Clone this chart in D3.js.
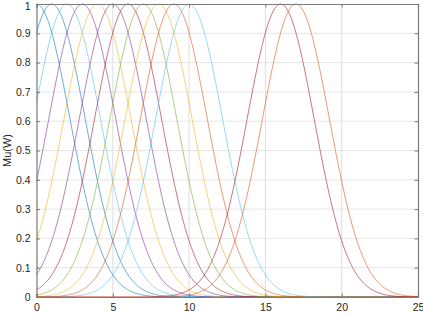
<!DOCTYPE html>
<html><head><meta charset="utf-8">
<script src="https://cdn.jsdelivr.net/npm/d3@7"></script>
<style>body{margin:0;background:#fff}svg{display:block}text{font-family:"Liberation Sans",Arial,sans-serif}</style>
</head><body>
<svg id="c" width="423" height="314"></svg>
<script>
// Gaussian membership functions
const centers = [0,1,2,3,4,5,6,7,8,9,10,16,17];
const sigmas  = [2.2,2.2,2.2,2.2,2.2,2.2,2.2,2.2,2.2,2.2,2.2,2.2,2.2];
const colors  = ["#0072BD","#0072BD","#4DBEEE","#7E2F8E","#EDB120","#7E2F8E","#A2142F","#77AC30","#EDB120","#D95319","#4DBEEE","#A2142F","#D95319"];
const xTicks = [0,5,10,15,20,25];
const yTicks = [0,0.1,0.2,0.3,0.4,0.5,0.6,0.7,0.8,0.9,1];
const xDomain = [0,25], yDomain = [0,1];

const svg = d3.select("#c");
const L=36.5, R=418, T=4, B=297;
const x = d3.scaleLinear().domain(xDomain).range([L,R]);
const y = d3.scaleLinear().domain(yDomain).range([B,T]);

// grid
const g = svg.append("g");
g.selectAll(".gx").data(xTicks.slice(1,-1)).join("line")
 .attr("x1",d=>x(d)).attr("x2",d=>x(d)).attr("y1",T).attr("y2",B)
 .attr("stroke","#dedede").attr("stroke-width",1);
g.selectAll(".gy").data(yTicks.slice(1,-1)).join("line")
 .attr("y1",d=>y(d)).attr("y2",d=>y(d)).attr("x1",L).attr("x2",R)
 .attr("stroke","#e6e6e6").attr("stroke-width",1);

// curves
const xs = d3.range(0,25.0001,0.05);
const line = d3.line().x(d=>x(d[0])).y(d=>y(d[1]));
svg.append("g").selectAll("path").data(centers).join("path")
 .attr("d",(c,i)=>line(xs.map(v=>[v,Math.exp(-((v-c)**2)/(2*sigmas[i]**2))])))
 .attr("fill","none").attr("stroke",(c,i)=>colors[i]).attr("stroke-width",0.7)
 .attr("stroke-opacity",0.85);

// axes (ticks inside, box)
const tl=3.5;
const ax = svg.append("g");
ax.append("g").attr("transform",`translate(0,${B})`)
 .call(d3.axisBottom(x).tickValues(xTicks).tickSize(-tl).tickPadding(7).tickFormat(d3.format("d")));
ax.append("g").attr("transform",`translate(0,${T})`)
 .call(d3.axisTop(x).tickValues(xTicks).tickSize(-tl).tickFormat(""));
const yl = ax.append("g").attr("transform",`translate(${L},0)`)
 .call(d3.axisLeft(y).tickValues(yTicks).tickSize(-tl).tickPadding(6).tickFormat(d=>d3.format("")(+d.toFixed(1))));
yl.selectAll(".tick text").filter(d=>d===1).attr("dy","0.5em");
ax.append("g").attr("transform",`translate(${R},0)`)
 .call(d3.axisRight(y).tickValues(yTicks).tickSize(-tl).tickFormat(""));
ax.selectAll(".domain").attr("stroke","#7a7a7a").attr("stroke-width",1.2);
ax.selectAll(".tick line").attr("stroke","#7a7a7a");
ax.selectAll(".tick text").attr("fill","#262626").style("font-size","10.5px");

svg.append("text").attr("transform",`translate(11,${(T+B)/2}) rotate(-90)`)
 .attr("text-anchor","middle").attr("fill","#262626").style("font-size","11px").text("Mu(W)");
</script>
</body></html>
